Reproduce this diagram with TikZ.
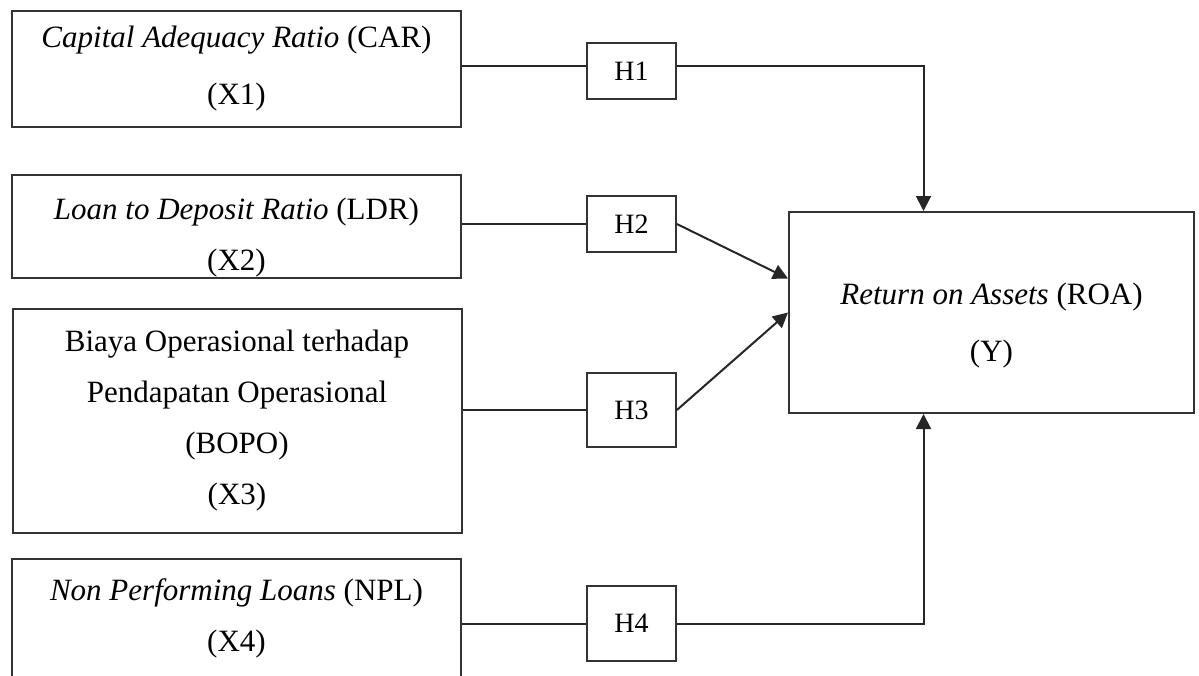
\documentclass[tikz,border=0pt]{standalone}
\usepackage{fontspec}
\setmainfont{Liberation Serif}
\usetikzlibrary{arrows.meta,positioning}

\begin{document}
\begin{tikzpicture}[x=0.5pt,y=-0.5pt,
  varbox/.style={draw=black!80,line width=1pt,inner sep=0pt,minimum width=224.5pt,align=center,font=\fontsize{15.5}{25.5}\selectfont},
  wide/.style={font=\fontsize{15.5}{28.5}\selectfont},
  hypbox/.style={draw=black!80,line width=0.9pt,inner sep=0pt,minimum width=44.5pt,font=\fontsize{14}{16}\selectfont},
  link/.style={draw=black!85,line width=1pt},
  arr/.style={link,-{Triangle[length=7.5pt,width=7.5pt]}}]
  \useasboundingbox (0,0) rectangle (1199,675);
  \clip (0,0) rectangle (1199,675);
  % variables
  \node[varbox,wide,minimum height=58pt] (car) at (236.5,69) {\textit{Capital Adequacy Ratio} (CAR)\\(X1)};
  \node[varbox,minimum height=51.5pt] (ldr) at (236.5,226.5) {\rule{0pt}{22pt}\textit{Loan to Deposit Ratio} (LDR)\\(X2)};
  \node[varbox,minimum height=112pt] (bopo) at (237,421) {Biaya Operasional terhadap\\Pendapatan Operasional\\(BOPO)\\(X3)};
  \node[varbox,minimum height=59pt] (npl) at (236.5,618) {\textit{Non Performing Loans} (NPL)\\(X4)};
  \node[varbox,wide,minimum width=202.5pt,minimum height=100.5pt] (roa) at (991.5,312.5) {\rule{0pt}{24pt}\textit{Return on Assets} (ROA)\\(Y)};
  % hypotheses
  \node[hypbox,minimum height=28pt] (h1) at (631.5,71) {H1};
  \node[hypbox,minimum height=28pt] (h2) at (631.5,224) {H2};
  \node[hypbox,minimum height=37pt] (h3) at (631.5,410) {H3};
  \node[hypbox,minimum height=37.5pt] (h4) at (631.5,623.5) {H4};
  \coordinate (top) at ([xshift=-34pt]roa.north);
  \coordinate (bot) at ([xshift=-34pt]roa.south);
  % connectors
  \draw[link] (car.east |- 0,66) -- (h1.west |- 0,66);
  \draw[link] (ldr.east |- h2.west) -- (h2.west);
  \draw[link] (bopo.east |- h3.west) -- (h3.west);
  \draw[link] (npl.east |- h4.west) -- (h4.west);
  \draw[arr] (h1.east |- 0,66) -| (top);
  \draw[arr] (h2.east) -- ([yshift=17pt]roa.west);
  \draw[arr] (h3.east) -- (roa.west);
  \draw[arr] (h4.east) -| (bot);
\end{tikzpicture}
\end{document}
